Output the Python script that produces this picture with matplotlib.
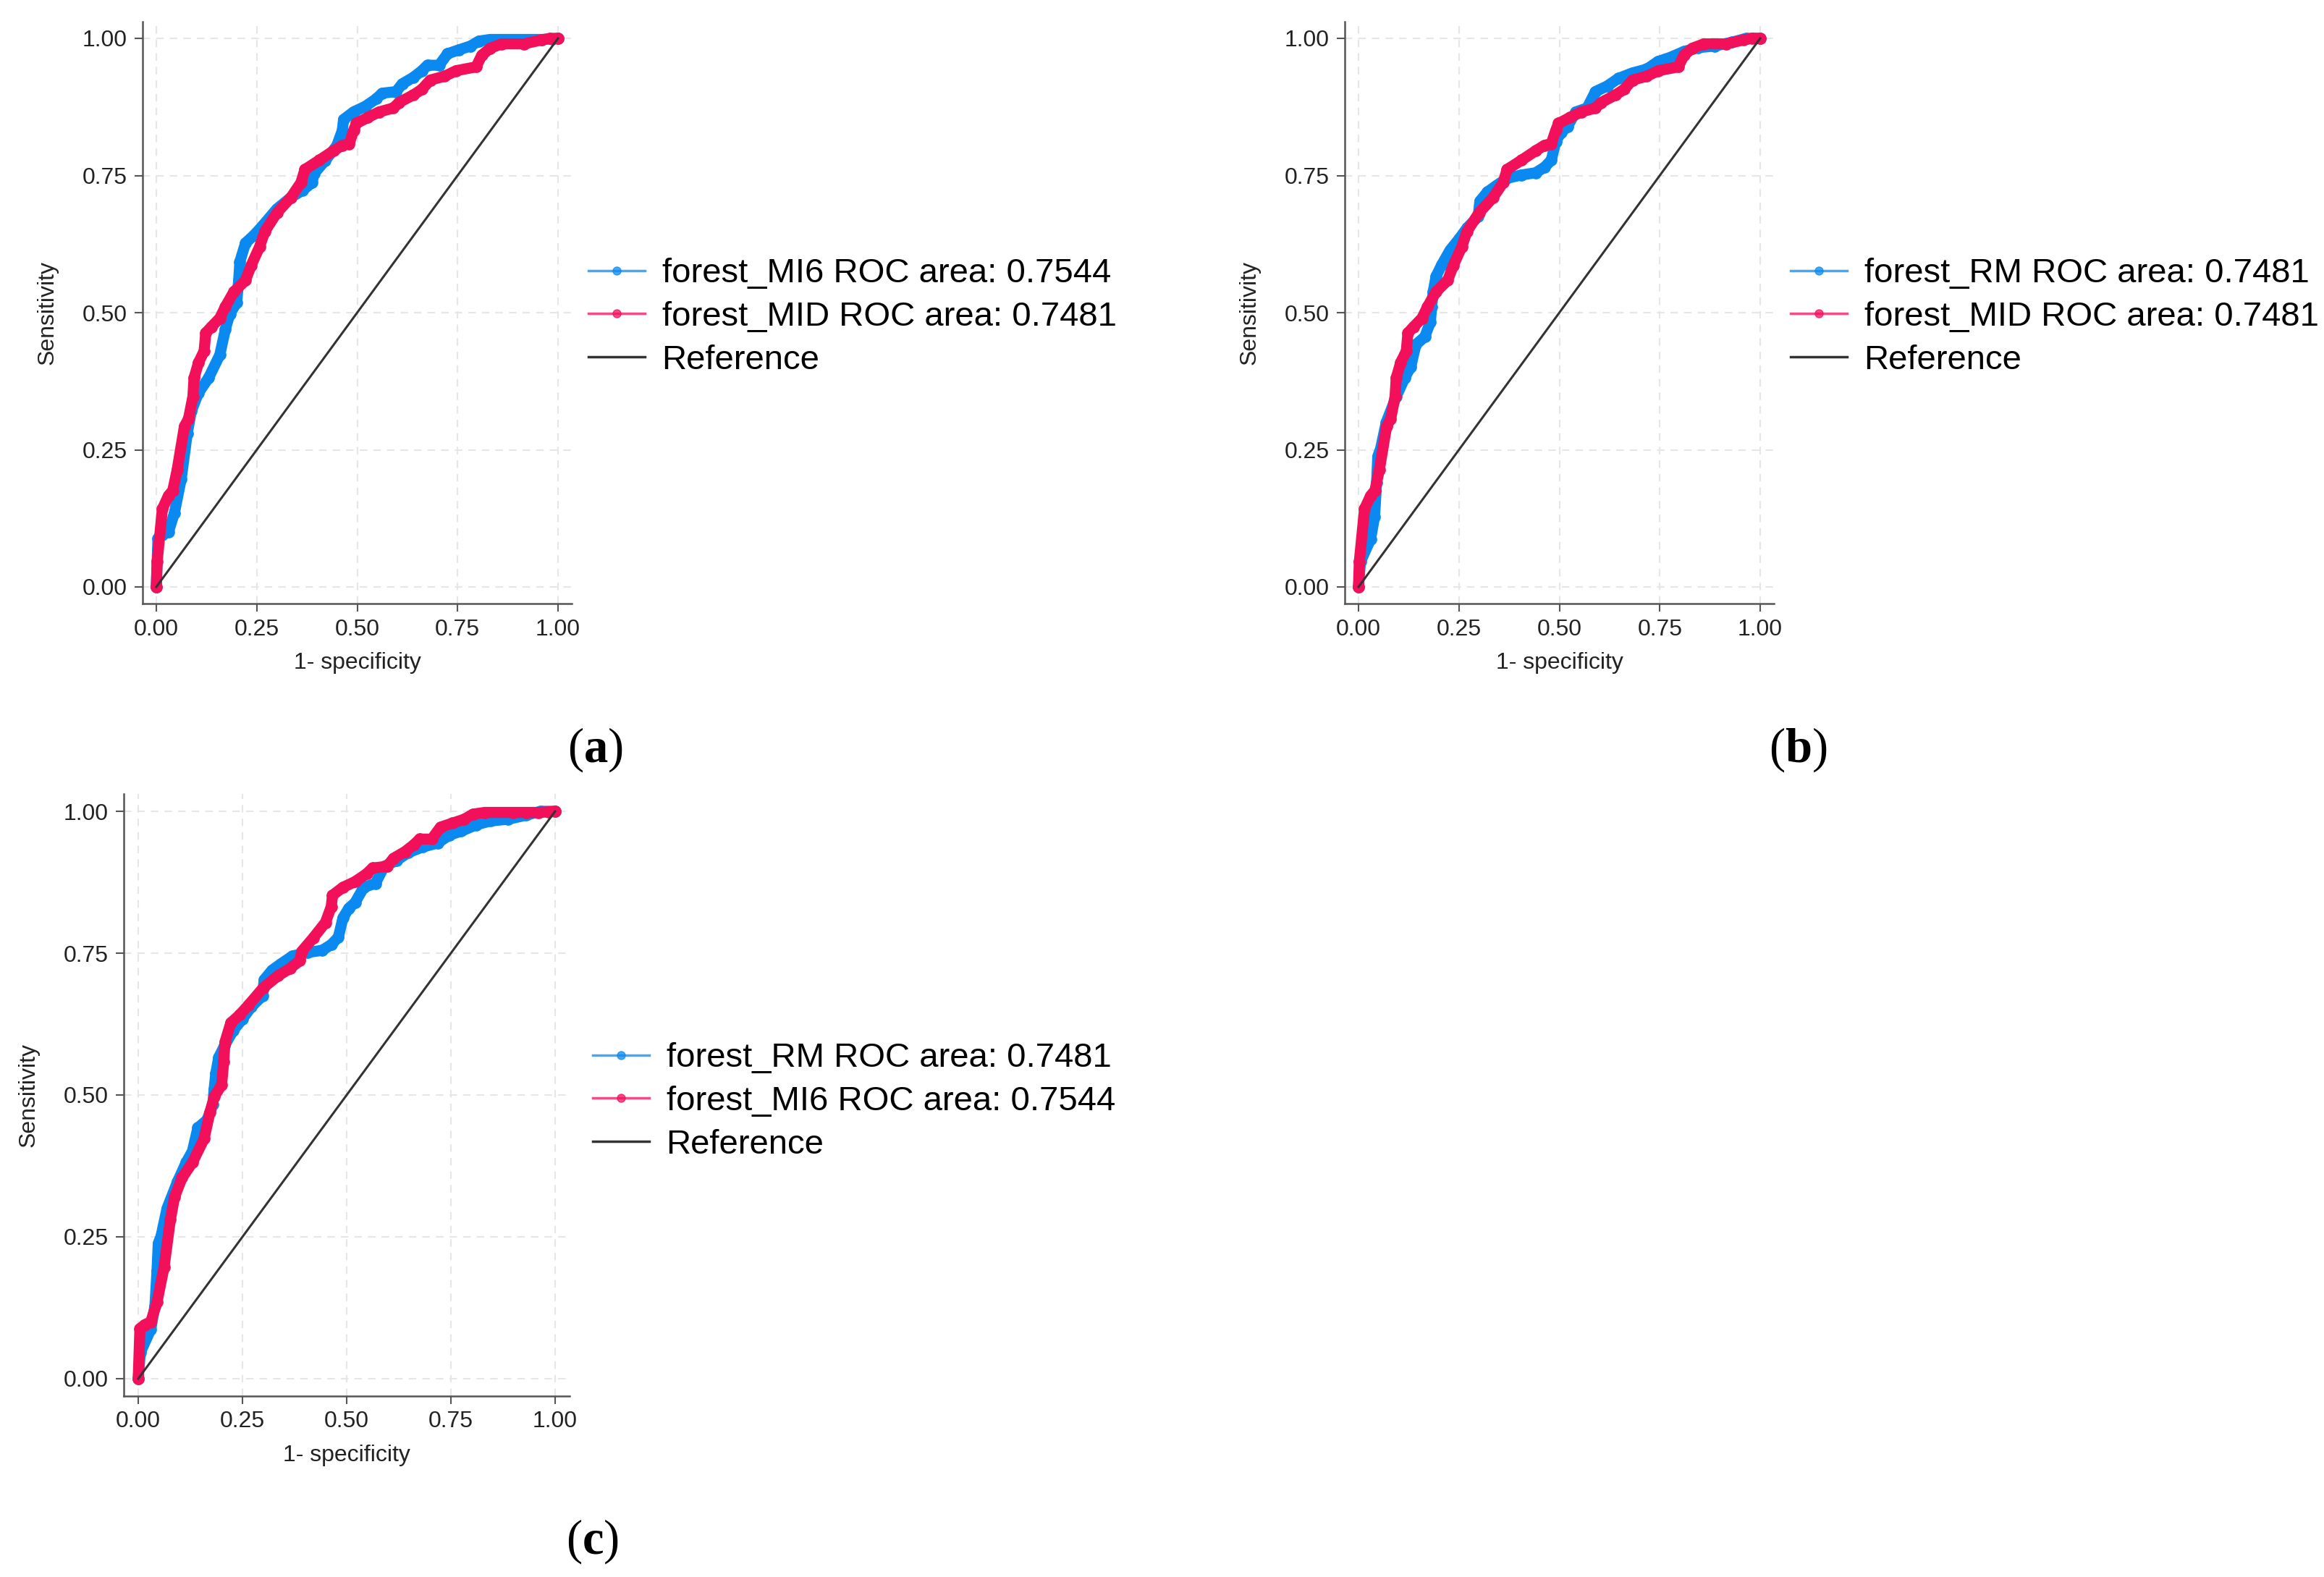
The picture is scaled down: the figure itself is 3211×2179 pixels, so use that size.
import matplotlib
matplotlib.use("Agg")
import matplotlib.pyplot as plt
from matplotlib.lines import Line2D

plt.rcParams['font.family'] = ['Liberation Sans', 'DejaVu Sans']
plt.rcParams['mathtext.fontset'] = 'custom'
plt.rcParams['mathtext.rm'] = 'Liberation Serif'
plt.rcParams['mathtext.bf'] = 'Liberation Serif:bold'

# ROC curves (1 - specificity, sensitivity)
mi6_fpr = [0, 0.004, 0.015, 0.03, 0.045, 0.062, 0.077, 0.087, 0.105, 0.13,
           0.158, 0.172, 0.183, 0.2, 0.205, 0.208, 0.222, 0.243, 0.264, 0.3,
           0.335, 0.364, 0.388, 0.392, 0.42, 0.449, 0.463, 0.466, 0.491, 0.52,
           0.548, 0.562, 0.597, 0.612, 0.64, 0.661, 0.675, 0.704, 0.725, 0.753,
           0.782, 0.803, 0.831, 0.9, 0.93, 0.96, 0.985, 1.0]
mi6_tpr = [0, 0.088, 0.095, 0.10, 0.135, 0.197, 0.28, 0.32, 0.354, 0.381,
           0.423, 0.47, 0.498, 0.518, 0.559, 0.593, 0.627, 0.641, 0.658, 0.689,
           0.71, 0.723, 0.737, 0.753, 0.777, 0.804, 0.832, 0.852, 0.866, 0.876,
           0.89, 0.9, 0.903, 0.917, 0.929, 0.941, 0.951, 0.951, 0.972, 0.979,
           0.986, 0.995, 0.998, 0.998, 0.998, 0.998, 0.999, 1.0]

mid_fpr = [0, 0.002, 0.015, 0.03, 0.041, 0.052, 0.07, 0.08, 0.091, 0.094,
           0.105, 0.119, 0.123, 0.137, 0.158, 0.172, 0.193, 0.222, 0.236, 0.257,
           0.27, 0.3, 0.335, 0.36, 0.37, 0.406, 0.441, 0.463, 0.48, 0.491,
           0.498, 0.527, 0.555, 0.59, 0.604, 0.64, 0.661, 0.682, 0.718, 0.746,
           0.796, 0.81, 0.831, 0.86, 0.916, 0.958, 0.98, 1.0]
mid_tpr = [0, 0.046, 0.142, 0.166, 0.176, 0.214, 0.293, 0.306, 0.347, 0.381,
           0.409, 0.43, 0.463, 0.474, 0.49, 0.511, 0.538, 0.559, 0.586, 0.62,
           0.648, 0.682, 0.71, 0.737, 0.761, 0.778, 0.795, 0.805, 0.808, 0.832,
           0.845, 0.856, 0.866, 0.873, 0.883, 0.897, 0.907, 0.924, 0.931, 0.941,
           0.948, 0.969, 0.982, 0.99, 0.99, 0.997, 1.0, 1.0]

rm_fpr = [0, 0.005, 0.03, 0.04, 0.045, 0.048, 0.055, 0.069, 0.094, 0.115,
          0.13, 0.143, 0.165, 0.179, 0.182, 0.186, 0.193, 0.207, 0.228, 0.25,
          0.271, 0.298, 0.302, 0.321, 0.342, 0.37, 0.406, 0.441, 0.463, 0.48,
          0.491, 0.505, 0.52, 0.541, 0.569, 0.59, 0.619, 0.647, 0.682, 0.718,
          0.746, 0.775, 0.81, 0.845, 0.887, 0.93, 0.965, 1.0]
rm_tpr = [0, 0.046, 0.087, 0.128, 0.19, 0.238, 0.252, 0.3, 0.347, 0.381,
          0.401, 0.442, 0.456, 0.483, 0.51, 0.538, 0.566, 0.587, 0.614, 0.634,
          0.655, 0.675, 0.703, 0.72, 0.731, 0.745, 0.751, 0.755, 0.765, 0.778,
          0.812, 0.829, 0.839, 0.866, 0.873, 0.903, 0.913, 0.927, 0.937, 0.944,
          0.958, 0.965, 0.976, 0.983, 0.986, 0.993, 1.0, 1.0]

ticks = [0, 0.25, 0.5, 0.75, 1.0]
tick_labels = ['0.00', '0.25', '0.50', '0.75', '1.00']

BLUE = '#0a8af0'
RED = '#f2105a'

W, H = 3211, 2179
fig = plt.figure(figsize=(W / 100, H / 100), dpi=100)

XLIM = (-0.035, 1.035)
YLIM = (-0.03, 1.03)


def make_axes(x0, x1, ytop, ybot):
    # x0/x1: pixel of data 0 and 1; ytop/ybot: pixel of data 1 and 0
    sx = x1 - x0
    sy = ybot - ytop
    left = x0 + XLIM[0] * sx
    width = (XLIM[1] - XLIM[0]) * sx
    bottom = ybot - YLIM[0] * sy
    height = (YLIM[1] - YLIM[0]) * sy
    return fig.add_axes([left / W, 1 - bottom / H, width / W, height / H])


def roc_panel(ax, c1, c2, leg_x, leg_y, tag, tag_x, tag_y):
    ax.plot(c1[0], c1[1], color=BLUE, lw=11, marker='o', ms=11,
            solid_joinstyle='round', solid_capstyle='round', zorder=3)
    ax.plot(c2[0], c2[1], color=RED, lw=11, marker='o', ms=11,
            solid_joinstyle='round', solid_capstyle='round', zorder=4)
    ax.plot([0, 1], [0, 1], color='#333333', lw=2.2, zorder=5)
    ax.set_xlim(*XLIM)
    ax.set_ylim(*YLIM)
    ax.set_xticks(ticks)
    ax.set_xticklabels(tick_labels)
    ax.set_yticks(ticks)
    ax.set_yticklabels(tick_labels)
    ax.grid(True, color='#e6e6e6', lw=1.5, ls=(0, (5, 4)))
    ax.set_axisbelow(True)
    for s in ['top', 'right']:
        ax.spines[s].set_visible(False)
    for s in ['left', 'bottom']:
        ax.spines[s].set_color('#555555')
        ax.spines[s].set_linewidth(1.8)
    ax.tick_params(direction='out', length=8, width=1.5, color='#555555',
                   labelsize=23, pad=7, labelcolor='#222222')
    ax.set_xlabel('1- specificity', fontsize=23, labelpad=12, color='#222222')
    ax.set_ylabel('Sensitivity', fontsize=23, labelpad=24, color='#222222')

    handles = [
        Line2D([], [], color=BLUE, lw=2.5, alpha=0.75, marker='o', ms=8,
               markerfacecolor=BLUE, markeredgecolor=BLUE),
        Line2D([], [], color=RED, lw=2.5, alpha=0.75, marker='o', ms=8,
               markerfacecolor=RED, markeredgecolor=RED),
        Line2D([], [], color='#333333', lw=2.5),
    ]
    ax.legend(handles, [c1[2], c2[2], 'Reference'], loc='center left',
              bbox_to_anchor=(leg_x / W, 1 - leg_y / H),
              bbox_transform=fig.transFigure, frameon=False, fontsize=34,
              handlelength=1.65, handletextpad=0.5, labelspacing=0.33,
              borderpad=0, borderaxespad=0)
    fig.text(tag_x / W, 1 - tag_y / H,
             r'$\mathrm{(}\mathbf{' + tag + r'}\mathrm{)}$',
             fontsize=48, ha='center', va='center')


mi6 = (mi6_fpr, mi6_tpr, 'forest_MI6 ROC area: 0.7544')
mid = (mid_fpr, mid_tpr, 'forest_MID ROC area: 0.7481')
rm = (rm_fpr, rm_tpr, 'forest_RM ROC area: 0.7481')

ax_a = make_axes(216, 771, 53, 811)
roc_panel(ax_a, mi6, mid, 813, 438, 'a', 822, 1036)

ax_b = make_axes(1877, 2432, 53, 811)
roc_panel(ax_b, rm, mid, 2474, 438, 'b', 2484, 1036)

ax_c = make_axes(191, 767, 1121, 1905)
roc_panel(ax_c, rm, mi6, 819, 1522, 'c', 819, 2130)

fig.savefig('out.png', dpi=100, facecolor='white')
